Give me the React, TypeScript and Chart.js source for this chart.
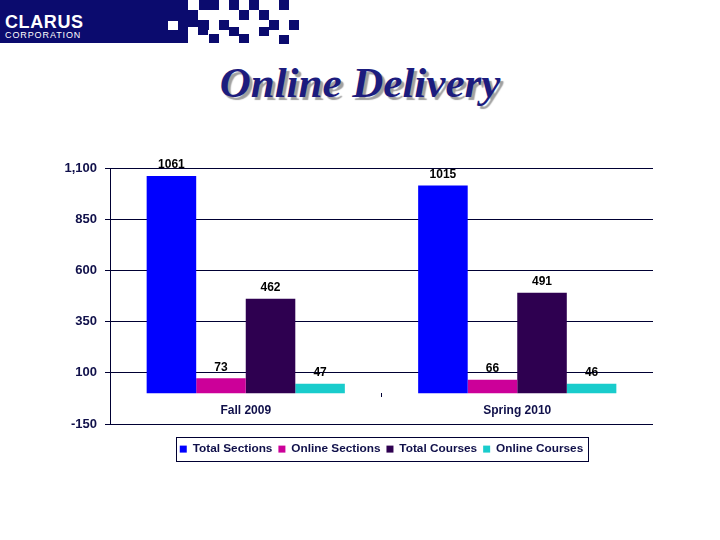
import React, { useEffect, useRef } from 'react';
import { Chart, registerables } from 'chart.js';

Chart.register(...registerables);

// ---- data ----
const categories = ['Fall 2009', 'Spring 2010'];
const seriesNames = ['Total Sections', 'Online Sections', 'Total Courses', 'Online Courses'];
const totalSections = [1061, 1015];
const onlineSections = [73, 66];
const totalCourses = [462, 491];
const onlineCourses = [47, 46];
const yTickValues = [-150, 100, 350, 600, 850, 1100];

const seriesColors = ['#0000FF', '#CC0099', '#2E0050', '#19CCCC'];
const FONT = '"Liberation Sans", Arial, sans-serif';
const NAVY_TEXT = '#10104a';
const GRID = '#000033';

// decorative header squares [x, y, w, h, color]
const headerBlocks: [number, number, number, number, string][] = [
  [0, 0, 188, 43, '#0b0b6e'],
  [199, 0, 20, 10, '#0b0b6e'],
  [229, 0, 10, 10, '#0b0b6e'],
  [249, 0, 10, 10, '#0b0b6e'],
  [279, 0, 10, 10, '#0b0b6e'],
  [188, 10, 10, 10, '#0b0b6e'],
  [239, 10, 10, 10, '#0b0b6e'],
  [259, 10, 10, 10, '#0b0b6e'],
  [188, 20, 21, 10, '#0b0b6e'],
  [168, 21, 10, 9, '#ffffff'],
  [219, 20, 10, 10, '#0b0b6e'],
  [269, 20, 10, 10, '#0b0b6e'],
  [289, 20, 10, 10, '#0b0b6e'],
  [198, 27, 10, 8, '#0b0b6e'],
  [188, 27, 10, 8, '#ffffff'],
  [229, 27, 10, 9, '#0b0b6e'],
  [259, 27, 10, 9, '#0b0b6e'],
  [209, 34, 10, 9, '#0b0b6e'],
  [239, 34, 10, 9, '#0b0b6e'],
  [279, 35, 10, 9, '#0b0b6e'],
];

const valueLabelPlugin = {
  id: 'valueLabels',
  afterDatasetsDraw(chart: any) {
    const ctx = chart.ctx;
    ctx.save();
    ctx.font = `bold 12px ${FONT}`;
    ctx.fillStyle = '#000000';
    ctx.textAlign = 'center';
    ctx.textBaseline = 'bottom';
    chart.data.datasets.forEach((ds: any, di: number) => {
      const meta = chart.getDatasetMeta(di);
      meta.data.forEach((el: any, i: number) => {
        ctx.fillText(String(ds.data[i]), el.x, el.y - 5);
      });
    });
    ctx.restore();
  },
};

const legendBoxPlugin = {
  id: 'legendBox',
  afterDraw(chart: any) {
    const lg = chart.legend;
    if (!lg || !lg.legendHitBoxes || !lg.legendHitBoxes.length) return;
    const boxes = lg.legendHitBoxes;
    let l = Infinity, r = -Infinity, t = Infinity, b = -Infinity;
    boxes.forEach((h: any) => {
      l = Math.min(l, h.left);
      r = Math.max(r, h.left + h.width);
      t = Math.min(t, h.top);
      b = Math.max(b, h.top + h.height);
    });
    const ctx = chart.ctx;
    ctx.save();
    ctx.strokeStyle = GRID;
    ctx.lineWidth = 1;
    ctx.strokeRect(Math.round(l - 4) + 0.5, Math.round(t - 6) + 0.5, Math.round(r - l + 9), Math.round(b - t + 12));
    ctx.restore();
  },
};

function ClarusChart() {
  const ref = useRef<HTMLCanvasElement | null>(null);
  useEffect(() => {
    if (!ref.current) return;
    const values = [totalSections, onlineSections, totalCourses, onlineCourses];
    const chart = new Chart(ref.current, {
      type: 'bar',
      data: {
        labels: categories,
        datasets: seriesNames.map((name, i) => ({
          label: name,
          data: values[i],
          backgroundColor: seriesColors[i],
          borderWidth: 0,
          barPercentage: 1,
          categoryPercentage: 0.73,
        })),
      },
      options: {
        animation: false,
        responsive: false,
        maintainAspectRatio: false,
        layout: { padding: { top: 38, right: 67, left: 0, bottom: 75 } },
        plugins: {
          tooltip: { enabled: false },
          legend: {
            display: true,
            position: 'bottom',
            fullSize: false,
            title: { display: true, text: '', padding: { top: 12, bottom: 0 }, font: { size: 1 } },
            labels: {
              boxWidth: 7,
              boxHeight: 7,
              padding: 6,
              color: NAVY_TEXT,
              font: { family: FONT, size: 11.8, weight: 'bold' },
            },
          },
        },
        scales: {
          x: {
            position: { y: 0 },
            grid: {
              display: true,
              offset: true,
              drawOnChartArea: false,
              drawTicks: true,
              tickLength: 4,
              color: (c: any) => (c.index === 1 ? GRID : 'rgba(0,0,0,0)'),
            },
            border: { display: false },
            ticks: {
              color: NAVY_TEXT,
              padding: 6,
              font: { family: FONT, size: 12, weight: 'bold' },
            },
          },
          y: {
            min: -150,
            max: 1100,
            afterBuildTicks: (scale: any) => {
              scale.ticks = yTickValues.map((v) => ({ value: v }));
            },
            afterFit: (scale: any) => {
              scale.width = 110;
            },
            grid: { color: GRID, lineWidth: 1, tickLength: 5, drawTicks: true },
            border: { display: true, color: GRID, width: 1 },
            ticks: {
              color: NAVY_TEXT,
              padding: 8,
              font: { family: FONT, size: 13, weight: 'bold' },
              callback: (v: any) => Number(v).toLocaleString('en-US'),
            },
          },
        },
      } as any,
      plugins: [valueLabelPlugin, legendBoxPlugin],
    });
    return () => chart.destroy();
  }, []);
  return <canvas ref={ref} width={720} height={410} style={{ position: 'absolute', left: 0, top: 130, width: 720, height: 410 }} />;
}

export default function App() {
  return (
    <div style={{ position: 'absolute', left: 0, top: 0, width: 720, height: 540, background: '#ffffff', overflow: 'hidden' }}>
      {headerBlocks.map((b, i) => (
        <div key={i} style={{ position: 'absolute', left: b[0], top: b[1], width: b[2], height: b[3], background: b[4] }} />
      ))}
      <div style={{ position: 'absolute', left: 5, top: 12, color: '#ffffff', fontFamily: FONT, fontWeight: 'bold', fontSize: 18, letterSpacing: 0.6, lineHeight: '20px' }}>
        CLARUS
      </div>
      <div style={{ position: 'absolute', left: 5, top: 31, color: '#ffffff', fontFamily: FONT, fontSize: 9, letterSpacing: 0.9, lineHeight: '9px' }}>
        CORPORATION
      </div>
      <div
        style={{
          position: 'absolute',
          left: 0,
          top: 61,
          width: 720,
          textAlign: 'center',
          fontFamily: '"Liberation Serif", "Times New Roman", serif',
          fontWeight: 'bold',
          fontStyle: 'italic',
          fontSize: 43,
          lineHeight: '43px',
          color: '#1c1c7e',
          textShadow: '3px 3px 1px #a0a0a0',
        }}
      >
        Online Delivery
      </div>
      <ClarusChart />
    </div>
  );
}
